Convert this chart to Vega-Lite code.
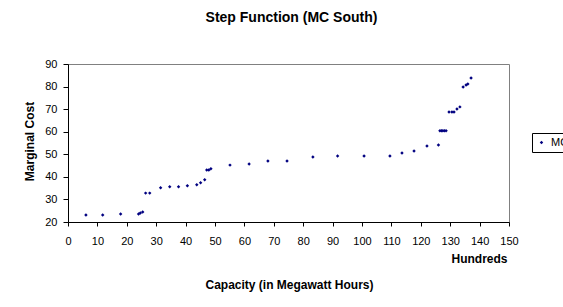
{
  "$schema": "https://vega.github.io/schema/vega-lite/v6.json",
  "width": 441,
  "height": 158,
  "autosize": {"type": "none"},
  "padding": {"left": 68, "top": 64, "right": 54, "bottom": 85},
  "background": "white",
  "title": {
    "text": "Step Function (MC South)",
    "font": "Liberation Sans",
    "fontSize": 14,
    "fontWeight": "bold",
    "color": "black",
    "anchor": "middle",
    "frame": "group",
    "dx": 3,
    "offset": 33
  },
  "config": {
    "view": {"stroke": "#808080", "strokeWidth": 1},
    "axis": {
      "labelFont": "Liberation Sans",
      "labelFontSize": 11,
      "labelColor": "black",
      "titleFont": "Liberation Sans",
      "titleFontSize": 12,
      "titleFontWeight": "bold",
      "titleColor": "black",
      "domainColor": "black",
      "tickColor": "black",
      "grid": false
    },
    "legend": {
      "labelFont": "Liberation Sans",
      "labelFontSize": 11,
      "labelColor": "black"
    }
  },
  "data": {
    "values": [
      {"capacity": 6.1, "cost": 23.1, "series": "MC"},
      {"capacity": 11.8, "cost": 23.1, "series": "MC"},
      {"capacity": 17.9, "cost": 23.5, "series": "MC"},
      {"capacity": 24.0, "cost": 23.5, "series": "MC"},
      {"capacity": 24.6, "cost": 24.0, "series": "MC"},
      {"capacity": 25.4, "cost": 24.4, "series": "MC"},
      {"capacity": 26.4, "cost": 32.8, "series": "MC"},
      {"capacity": 27.8, "cost": 32.8, "series": "MC"},
      {"capacity": 31.5, "cost": 35.2, "series": "MC"},
      {"capacity": 34.6, "cost": 35.6, "series": "MC"},
      {"capacity": 37.6, "cost": 35.6, "series": "MC"},
      {"capacity": 40.6, "cost": 36.1, "series": "MC"},
      {"capacity": 43.8, "cost": 36.5, "series": "MC"},
      {"capacity": 45.1, "cost": 37.4, "series": "MC"},
      {"capacity": 46.5, "cost": 38.7, "series": "MC"},
      {"capacity": 47.2, "cost": 43.0, "series": "MC"},
      {"capacity": 47.9, "cost": 43.0, "series": "MC"},
      {"capacity": 48.6, "cost": 43.6, "series": "MC"},
      {"capacity": 55.1, "cost": 45.2, "series": "MC"},
      {"capacity": 61.6, "cost": 45.7, "series": "MC"},
      {"capacity": 68.0, "cost": 47.0, "series": "MC"},
      {"capacity": 74.5, "cost": 47.0, "series": "MC"},
      {"capacity": 83.3, "cost": 48.8, "series": "MC"},
      {"capacity": 91.7, "cost": 49.2, "series": "MC"},
      {"capacity": 100.7, "cost": 49.2, "series": "MC"},
      {"capacity": 109.5, "cost": 49.2, "series": "MC"},
      {"capacity": 113.6, "cost": 50.6, "series": "MC"},
      {"capacity": 117.7, "cost": 51.5, "series": "MC"},
      {"capacity": 122.1, "cost": 53.7, "series": "MC"},
      {"capacity": 126.0, "cost": 54.1, "series": "MC"},
      {"capacity": 126.5, "cost": 60.4, "series": "MC"},
      {"capacity": 127.0, "cost": 60.4, "series": "MC"},
      {"capacity": 127.5, "cost": 60.4, "series": "MC"},
      {"capacity": 128.0, "cost": 60.4, "series": "MC"},
      {"capacity": 128.6, "cost": 60.4, "series": "MC"},
      {"capacity": 129.6, "cost": 68.7, "series": "MC"},
      {"capacity": 130.6, "cost": 68.7, "series": "MC"},
      {"capacity": 131.3, "cost": 68.7, "series": "MC"},
      {"capacity": 132.3, "cost": 70.1, "series": "MC"},
      {"capacity": 133.3, "cost": 71.0, "series": "MC"},
      {"capacity": 134.4, "cost": 79.8, "series": "MC"},
      {"capacity": 135.4, "cost": 80.7, "series": "MC"},
      {"capacity": 136.0, "cost": 81.1, "series": "MC"},
      {"capacity": 137.1, "cost": 83.8, "series": "MC"}
    ]
  },
  "layer": [
    {
      "mark": {"type": "point", "shape": "diamond", "filled": true, "size": 12, "opacity": 1},
      "encoding": {
        "x": {
          "field": "capacity",
          "type": "quantitative",
          "scale": {"domain": [0, 150], "nice": false, "zero": false},
          "axis": {
            "values": [0, 10, 20, 30, 40, 50, 60, 70, 80, 90, 100, 110, 120, 130, 140, 150],
            "title": "Capacity (in Megawatt Hours)",
            "tickSize": 4,
            "labelPadding": 9,
            "labelFlush": false,
            "labelOverlap": false,
            "titleY": 57,
            "titleX": 221
          }
        },
        "y": {
          "field": "cost",
          "type": "quantitative",
          "scale": {"domain": [20, 90], "nice": false, "zero": false},
          "axis": {
            "values": [20, 30, 40, 50, 60, 70, 80, 90],
            "title": "Marginal Cost",
            "tickSize": 5,
            "labelPadding": 6,
            "labelFlush": false,
            "titleX": -32,
            "titleY": 77
          }
        },
        "color": {
          "field": "series",
          "type": "nominal",
          "scale": {"range": ["#000080"]},
          "legend": {
            "title": null,
            "orient": "none",
            "legendX": 464,
            "legendY": 69,
            "strokeColor": "black",
            "padding": 4,
            "symbolSize": 12,
            "symbolType": "diamond"
          }
        }
      }
    },
    {
      "mark": {"type": "point", "opacity": 0},
      "encoding": {
        "x": {
          "field": "capacity",
          "type": "quantitative",
          "axis": {
            "orient": "bottom",
            "title": "Hundreds",
            "labels": false,
            "ticks": false,
            "domain": false,
            "titleAnchor": "end",
            "titleAlign": "right",
            "titleX": 439,
            "titleY": 31
          }
        }
      }
    }
  ],
  "resolve": {"axis": {"x": "independent"}}
}
